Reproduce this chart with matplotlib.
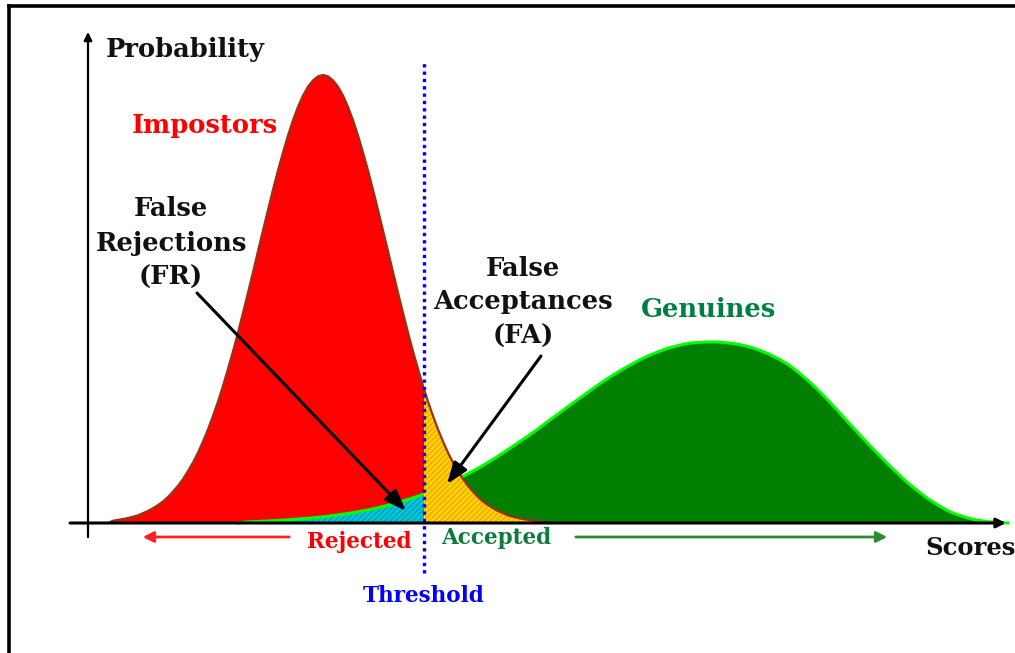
import matplotlib
matplotlib.use("Agg")
import matplotlib.pyplot as plt
from matplotlib.patches import Rectangle, FancyArrowPatch
from matplotlib.lines import Line2D

# ---------------- data ----------------
# Scores axis in arbitrary units, probability normalised to impostor peak = 1
impostor_scores = [2, 2.5, 3, 3.5, 4, 4.5, 5, 5.5, 6, 6.5, 7, 7.5, 8, 8.5, 9, 9.5, 10,
                   10.5, 11, 11.5, 12, 12.5, 13, 13.5, 14, 14.5, 15, 15.5, 16, 16.5, 17,
                   17.5, 18, 18.5, 19, 19.5, 20, 20.5, 21, 21.5, 22, 22.5, 23, 23.5, 24,
                   24.5, 25, 25.5, 26, 26.5, 27, 27.5, 28, 28.5, 29, 29.5, 30, 30.5, 31,
                   31.5, 32, 32.5, 33, 33.5, 34, 34.5, 35, 35.5, 36, 36.5, 37, 37.5, 38,
                   38.5, 39, 39.5, 40, 40.5, 41, 41.5, 42, 42.5, 43, 43.5, 44, 44.5, 45,
                   45.5, 46]
impostor_prob = [0.000, 0.005, 0.007, 0.009, 0.011, 0.014, 0.017, 0.022, 0.027, 0.033,
                 0.040, 0.048, 0.058, 0.070, 0.083, 0.098, 0.116, 0.135, 0.157, 0.182,
                 0.209, 0.239, 0.271, 0.306, 0.344, 0.383, 0.425, 0.469, 0.514, 0.560,
                 0.607, 0.653, 0.699, 0.744, 0.787, 0.827, 0.865, 0.899, 0.929, 0.954,
                 0.974, 0.988, 0.997, 1.000, 0.997, 0.988, 0.974, 0.954, 0.929, 0.899,
                 0.865, 0.827, 0.787, 0.744, 0.699, 0.653, 0.607, 0.560, 0.514, 0.469,
                 0.425, 0.383, 0.344, 0.306, 0.271, 0.239, 0.209, 0.182, 0.157, 0.135,
                 0.116, 0.098, 0.083, 0.070, 0.058, 0.048, 0.040, 0.033, 0.027, 0.022,
                 0.017, 0.014, 0.011, 0.009, 0.007, 0.005, 0.004, 0.003, 0.000]

genuine_scores = [15, 16, 17, 18, 19, 20, 21, 22, 23, 24, 25, 26, 27, 28, 29, 30, 31,
                  32, 33, 34, 35, 36, 37, 38, 39, 40, 41, 42, 43, 44, 45, 46, 47, 48, 49,
                  50, 51, 52, 53, 54, 55, 56, 57, 58, 59, 60, 61, 62, 63, 64, 65, 66, 67,
                  68, 69, 70, 71, 72, 73, 74, 75, 76, 77, 78, 79, 80, 81, 82, 83, 84, 85,
                  86, 87, 88, 89, 90, 91, 92]
genuine_prob = [0.000, 0.0025, 0.0035, 0.0045, 0.0057, 0.0072, 0.0089, 0.0107,
                0.0128, 0.0152, 0.0181, 0.0213, 0.0250, 0.0293, 0.0341, 0.0396, 0.0457,
                0.0525, 0.060, 0.068, 0.078, 0.087, 0.098, 0.110, 0.122, 0.135, 0.149,
                0.164, 0.179, 0.194, 0.210, 0.227, 0.243, 0.260, 0.276, 0.292, 0.308,
                0.323, 0.337, 0.350, 0.362, 0.373, 0.382, 0.390, 0.396, 0.401, 0.403,
                0.404, 0.404, 0.402, 0.399, 0.394, 0.387, 0.378, 0.367, 0.354, 0.337,
                0.318, 0.297, 0.274, 0.250, 0.225, 0.201, 0.177, 0.154, 0.131, 0.110,
                0.089, 0.071, 0.054, 0.040, 0.027, 0.018, 0.011, 0.006, 0.003, 0.001,
                0.000]

threshold = 33.6

labels = {
    "ylabel": "Probability",
    "xlabel": "Scores",
    "impostors": "Impostors",
    "genuines": "Genuines",
    "fr": "False\nRejections\n(FR)",
    "fa": "False\nAcceptances\n(FA)",
    "rejected": "Rejected",
    "accepted": "Accepted",
    "threshold": "Threshold",
}

# ---------------- figure ----------------
W, H = 1015, 653
fig = plt.figure(figsize=(W / 100, H / 100), dpi=100)
ax = fig.add_axes([0, 0, 1, 1])
ax.set_xlim(-8.8, 92.7)
ax.set_ylim(-130 / 448, 523 / 448)
ax.axis("off")

plt.rcParams["hatch.linewidth"] = 0.8


def fp(x, y):
    """figure-fraction position from pixel position (top-left origin)"""
    return (x / W, 1 - y / H)


ymin, ymax = ax.get_ylim()
xmin, xmax = ax.get_xlim()
left_clip = Rectangle((xmin, ymin), threshold - xmin, ymax - ymin, transform=ax.transData)
right_clip = Rectangle((threshold, ymin), xmax - threshold, ymax - ymin, transform=ax.transData)

# impostor fill left of threshold (red)
p = ax.fill_between(impostor_scores, impostor_prob, 0, color="#ff0000", lw=0, zorder=2)
p.set_clip_path(left_clip)
# genuine fill right of threshold (dark green)
p = ax.fill_between(genuine_scores, genuine_prob, 0, color="#007f00", lw=0, zorder=2)
p.set_clip_path(right_clip)
# false rejections (cyan hatched)
p = ax.fill_between(genuine_scores, genuine_prob, 0, facecolor="#00c8dc", edgecolor="#0096a8",
                    hatch="//////", lw=0, zorder=3)
p.set_clip_path(left_clip)
# genuine outline
ax.plot(genuine_scores, genuine_prob, color="#00ff00", lw=2.2, zorder=4,
        solid_joinstyle="round")
# false acceptances (yellow hatched)
p = ax.fill_between(impostor_scores, impostor_prob, 0, facecolor="#ffd200", edgecolor="#f0a000",
                    hatch="//////", lw=0, zorder=5)
p.set_clip_path(right_clip)
# impostor outline
ax.plot(impostor_scores, impostor_prob, color="#9a3010", lw=1.6, zorder=6,
        solid_joinstyle="round")

# threshold line
ax.plot([threshold, threshold], [-50 / 448, 463 / 448], color="#0000ff", lw=2.4,
        linestyle=(0, (1, 1.2)), zorder=7)

# axes with arrows
ax.annotate("", xy=(91.8, 0), xytext=(-1.8, 0),
            arrowprops=dict(arrowstyle="-|>", lw=2.2, color="black", mutation_scale=14,
                            shrinkA=0, shrinkB=0), zorder=8)
ax.annotate("", xy=(0, 491 / 448), xytext=(0, -14 / 448),
            arrowprops=dict(arrowstyle="-|>", lw=1.6, color="black", mutation_scale=12,
                            shrinkA=0, shrinkB=0), zorder=8)

# frame
fig.add_artist(Line2D([9 / W, 9 / W], [0, 1 - 6 / H], color="black", lw=2.6,
                      transform=fig.transFigure))
fig.add_artist(Line2D([9 / W, 1], [1 - 6 / H, 1 - 6 / H], color="black", lw=2.6,
                      transform=fig.transFigure))

serif = "DejaVu Serif"
big = 18.5
small = 15.5

fig.text(*fp(185, 49), labels["ylabel"], ha="center", va="center", family=serif,
         weight="bold", fontsize=big, color="#111111")
fig.text(*fp(205, 126), labels["impostors"], ha="center", va="center", family=serif,
         weight="bold", fontsize=big, color="#ff0000")
fig.text(*fp(171, 243), labels["fr"], ha="center", va="center", family=serif,
         weight="bold", fontsize=big, color="#111111", linespacing=1.45)
fig.text(*fp(523, 302), labels["fa"], ha="center", va="center", family=serif,
         weight="bold", fontsize=big, color="#111111", linespacing=1.45)
fig.text(*fp(709, 310), labels["genuines"], ha="center", va="center", family=serif,
         weight="bold", fontsize=big, color="#008040")
fig.text(*fp(359, 542), labels["rejected"], ha="center", va="center", family=serif,
         weight="bold", fontsize=small, color="#ff0000")
fig.text(*fp(496, 538), labels["accepted"], ha="center", va="center", family=serif,
         weight="bold", fontsize=small, color="#107a3a")
fig.text(*fp(424, 596), labels["threshold"], ha="center", va="center", family=serif,
         weight="bold", fontsize=small, color="#0000ff")
fig.text(*fp(925, 548), labels["xlabel"], ha="left", va="center", family=serif,
         weight="bold", fontsize=17.5, color="#111111")

# Rejected / Accepted arrows
fig.add_artist(FancyArrowPatch(fp(292, 537), fp(140, 537),
               transform=fig.transFigure, arrowstyle="-|>", mutation_scale=16,
               lw=2, color="#ff2020"))
fig.add_artist(FancyArrowPatch(fp(573, 537), fp(890, 537),
               transform=fig.transFigure, arrowstyle="-|>", mutation_scale=16,
               lw=2, color="#2e8b2e"))

# annotation arrows
head = "-|>,head_length=0.65,head_width=0.24"
fig.add_artist(FancyArrowPatch(fp(197, 293), fp(406, 511),
               transform=fig.transFigure, arrowstyle=head, shrinkA=0, shrinkB=0,
               mutation_scale=20, lw=2.2, color="black", zorder=9))
fig.add_artist(FancyArrowPatch(fp(541, 356), fp(447, 484),
               transform=fig.transFigure, arrowstyle=head, shrinkA=0, shrinkB=0,
               mutation_scale=20, lw=2.2, color="black", zorder=9))

fig.savefig("out.png", dpi=100)
